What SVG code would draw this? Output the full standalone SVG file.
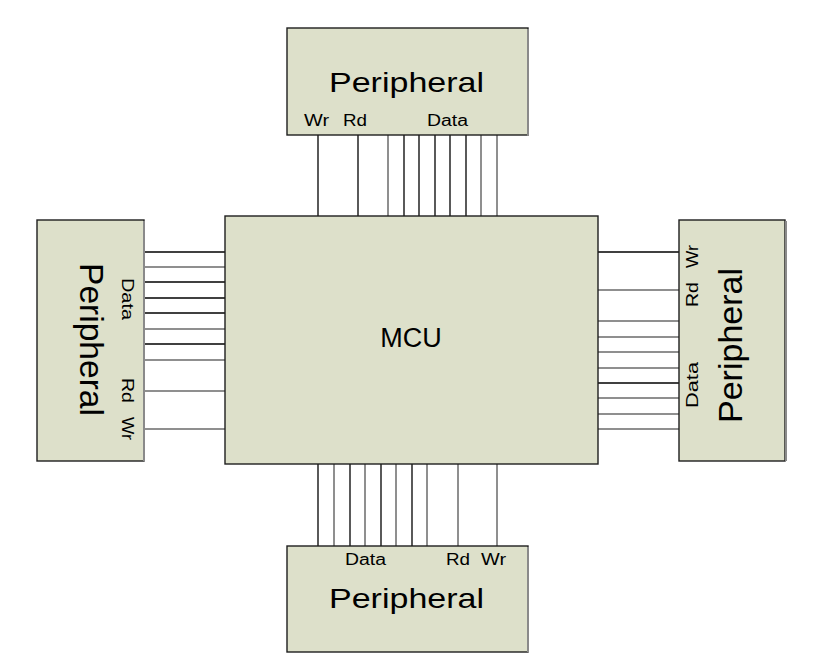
<svg xmlns="http://www.w3.org/2000/svg" width="835" height="654" viewBox="0 0 835 654">
<style>
.box{fill:#dde0ca;stroke:#1e1e1e;stroke-width:1.4}
.shadow{fill:none;stroke:#8a8a8a;stroke-width:2}
.t{font-family:"Liberation Sans",Arial,sans-serif;fill:#000}
.big{font-size:28px}
.vbig{font-size:33px}
.sm{font-size:16px}
.vsm{font-size:17px}
.k{stroke:#000;stroke-width:1.3}
.g{stroke:#6a6a6a;stroke-width:1.5}
</style>
<rect width="835" height="654" fill="#fff"/>
<g id="connectors" fill="none">
  <!-- top -->
  <line class="k" x1="318" y1="135" x2="318" y2="216"/>
  <line class="k" x1="358" y1="135" x2="358" y2="216"/>
  <line class="g" x1="388" y1="135" x2="388" y2="216"/>
  <line class="k" x1="404" y1="135" x2="404" y2="216"/>
  <line class="k" x1="419" y1="135" x2="419" y2="216"/>
  <line class="k" x1="435" y1="135" x2="435" y2="216"/>
  <line class="k" x1="450" y1="135" x2="450" y2="216"/>
  <line class="k" x1="466" y1="135" x2="466" y2="216"/>
  <line class="g" x1="481" y1="135" x2="481" y2="216"/>
  <line class="g" x1="497" y1="135" x2="497" y2="216"/>
  <!-- bottom -->
  <line class="k" x1="318" y1="464" x2="318" y2="546"/>
  <line class="g" x1="334" y1="464" x2="334" y2="546"/>
  <line class="k" x1="350" y1="464" x2="350" y2="546"/>
  <line class="g" x1="365" y1="464" x2="365" y2="546"/>
  <line class="k" x1="381" y1="464" x2="381" y2="546"/>
  <line class="g" x1="396" y1="464" x2="396" y2="546"/>
  <line class="k" x1="412" y1="464" x2="412" y2="546"/>
  <line class="g" x1="427" y1="464" x2="427" y2="546"/>
  <line class="g" x1="458" y1="464" x2="458" y2="546"/>
  <line class="g" x1="497" y1="464" x2="497" y2="546"/>
  <!-- left -->
  <line class="k" x1="144" y1="252" x2="225" y2="252"/>
  <line class="g" x1="144" y1="267" x2="225" y2="267"/>
  <line class="k" x1="144" y1="282" x2="225" y2="282"/>
  <line class="k" x1="144" y1="298" x2="225" y2="298"/>
  <line class="k" x1="144" y1="313" x2="225" y2="313"/>
  <line class="g" x1="144" y1="329" x2="225" y2="329"/>
  <line class="k" x1="144" y1="344" x2="225" y2="344"/>
  <line class="g" x1="144" y1="360" x2="225" y2="360"/>
  <line class="g" x1="144" y1="391" x2="225" y2="391"/>
  <line class="g" x1="144" y1="429" x2="225" y2="429"/>
  <!-- right -->
  <line class="k" x1="598" y1="252" x2="679" y2="252"/>
  <line class="g" x1="598" y1="290" x2="679" y2="290"/>
  <line class="g" x1="598" y1="321" x2="679" y2="321"/>
  <line class="g" x1="598" y1="337" x2="679" y2="337"/>
  <line class="g" x1="598" y1="352" x2="679" y2="352"/>
  <line class="g" x1="598" y1="368" x2="679" y2="368"/>
  <line class="k" x1="598" y1="383" x2="679" y2="383"/>
  <line class="g" x1="598" y1="398" x2="679" y2="398"/>
  <line class="g" x1="598" y1="414" x2="679" y2="414"/>
  <line class="g" x1="598" y1="429" x2="679" y2="429"/>
</g>
<g id="mcu">
  <rect class="box" x="225" y="216" width="373" height="248"/>
  <text class="t" x="411" y="347" font-size="27" text-anchor="middle">MCU</text>
</g>
<g id="peripheral-top">
  <rect class="box" x="287" y="28" width="241" height="107"/>
  <line class="shadow" x1="528" y1="29" x2="528" y2="136"/>
  <text class="t big" x="329" y="92" textLength="155" lengthAdjust="spacingAndGlyphs">Peripheral</text>
  <text class="t sm" x="304" y="126" textLength="25" lengthAdjust="spacingAndGlyphs">Wr</text>
  <text class="t sm" x="343" y="126" textLength="24" lengthAdjust="spacingAndGlyphs">Rd</text>
  <text class="t sm" x="427" y="126" textLength="41" lengthAdjust="spacingAndGlyphs">Data</text>
</g>
<g id="peripheral-bottom">
  <rect class="box" x="287" y="546" width="241" height="106"/>
  <line class="shadow" x1="528" y1="547" x2="528" y2="652"/>
  <text class="t sm" x="345" y="565" textLength="41" lengthAdjust="spacingAndGlyphs">Data</text>
  <text class="t sm" x="446" y="565" textLength="24" lengthAdjust="spacingAndGlyphs">Rd</text>
  <text class="t sm" x="481" y="565" textLength="25" lengthAdjust="spacingAndGlyphs">Wr</text>
  <text class="t big" x="329" y="608" textLength="155" lengthAdjust="spacingAndGlyphs">Peripheral</text>
</g>
<g id="peripheral-left">
  <rect class="box" x="37" y="220" width="107" height="241"/>
  <line class="shadow" x1="144" y1="221" x2="144" y2="461"/>
  <text class="t vbig" transform="translate(80,263) rotate(90)" textLength="153" lengthAdjust="spacingAndGlyphs">Peripheral</text>
  <text class="t vsm" transform="translate(122,278) rotate(90)" textLength="42" lengthAdjust="spacingAndGlyphs">Data</text>
  <text class="t vsm" transform="translate(122,378) rotate(90)" textLength="25" lengthAdjust="spacingAndGlyphs">Rd</text>
  <text class="t vsm" transform="translate(122,417) rotate(90)" textLength="23" lengthAdjust="spacingAndGlyphs">Wr</text>
</g>
<g id="peripheral-right">
  <rect class="box" x="679" y="220" width="106" height="241"/>
  <line class="shadow" x1="786" y1="221" x2="786" y2="461"/>
  <text class="t vbig" transform="translate(742,423) rotate(-90)" textLength="155" lengthAdjust="spacingAndGlyphs">Peripheral</text>
  <text class="t vsm" transform="translate(698,408) rotate(-90)" textLength="46" lengthAdjust="spacingAndGlyphs">Data</text>
  <text class="t vsm" transform="translate(698,307) rotate(-90)" textLength="25" lengthAdjust="spacingAndGlyphs">Rd</text>
  <text class="t vsm" transform="translate(698,268) rotate(-90)" textLength="23" lengthAdjust="spacingAndGlyphs">Wr</text>
</g>
</svg>
